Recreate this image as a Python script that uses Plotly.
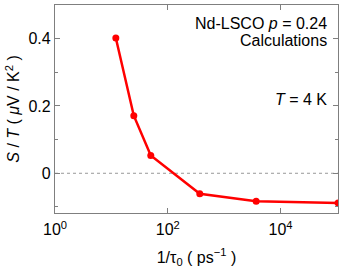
import plotly.graph_objects as go

inv_tau = [12, 25, 50, 370, 3700, 105000]
s_over_t = [0.402, 0.171, 0.053, -0.061, -0.083, -0.088]

x_tickvals = [1, 100, 10000]
x_ticktext = ["10<sup>0</sup>", "10<sup>2</sup>", "10<sup>4</sup>"]
y_tickvals = [0, 0.2, 0.4]
y_ticktext = ["0", "0.2", "0.4"]

FONT = "Liberation Sans, Arial, sans-serif"
AX = "#7f7f7f"

fig = go.Figure()
fig.add_trace(go.Scatter(
    x=inv_tau, y=s_over_t, mode="lines+markers",
    line=dict(color="#ff0000", width=2.5),
    marker=dict(color="#ff0000", size=7),
    showlegend=False,
))

fig.update_layout(
    width=349, height=274,
    margin=dict(l=55, r=11, t=5, b=61),
    paper_bgcolor="white", plot_bgcolor="white",
    font=dict(family=FONT, size=16, color="black"),
    xaxis=dict(
        type="log", range=[0, 5.02], automargin=False,
        tickvals=x_tickvals, ticktext=x_ticktext, tickfont=dict(size=16),
        ticks="inside", ticklen=5, tickcolor=AX, ticklabelstandoff=2,
        showline=True, linecolor=AX, linewidth=1.3, mirror="allticks",
        showgrid=False, zeroline=False,
        title=dict(text="1/τ<sub>0</sub> ( ps<sup>−1</sup> )", font=dict(size=16), standoff=14),
    ),
    yaxis=dict(
        range=[-0.118, 0.5], automargin=False,
        tickvals=y_tickvals, ticktext=y_ticktext, tickfont=dict(size=16),
        ticks="inside", ticklen=5, tickcolor=AX,
        minor=dict(tickvals=[-0.1, 0.1, 0.3], ticks="inside", ticklen=3, tickcolor=AX),
        showline=True, linecolor=AX, linewidth=1.3, mirror="allticks",
        showgrid=False, zeroline=False,
        title=dict(text="<i>S</i> / <i>T</i> ( <i>μ</i>V / K<sup>2</sup> )", font=dict(size=16), standoff=4),
    ),
    shapes=[dict(type="line", xref="paper", x0=0, x1=1, yref="y", y0=0, y1=0,
                 line=dict(color="#999999", width=1, dash="dot"), layer="below")],
    annotations=[
        dict(x=0.968, y=0.913, xref="paper", yref="paper", xanchor="right", yanchor="middle",
             text="Nd-LSCO <i>p</i> = 0.24", showarrow=False, font=dict(size=16)),
        dict(x=0.968, y=0.827, xref="paper", yref="paper", xanchor="right", yanchor="middle",
             text="Calculations", showarrow=False, font=dict(size=16)),
        dict(x=0.968, y=0.548, xref="paper", yref="paper", xanchor="right", yanchor="middle",
             text="<i>T</i> = 4 K", showarrow=False, font=dict(size=16)),
    ],
)

fig.write_html("out.html", config={"displayModeBar": False},
               post_script="document.body.style.margin='0';")
